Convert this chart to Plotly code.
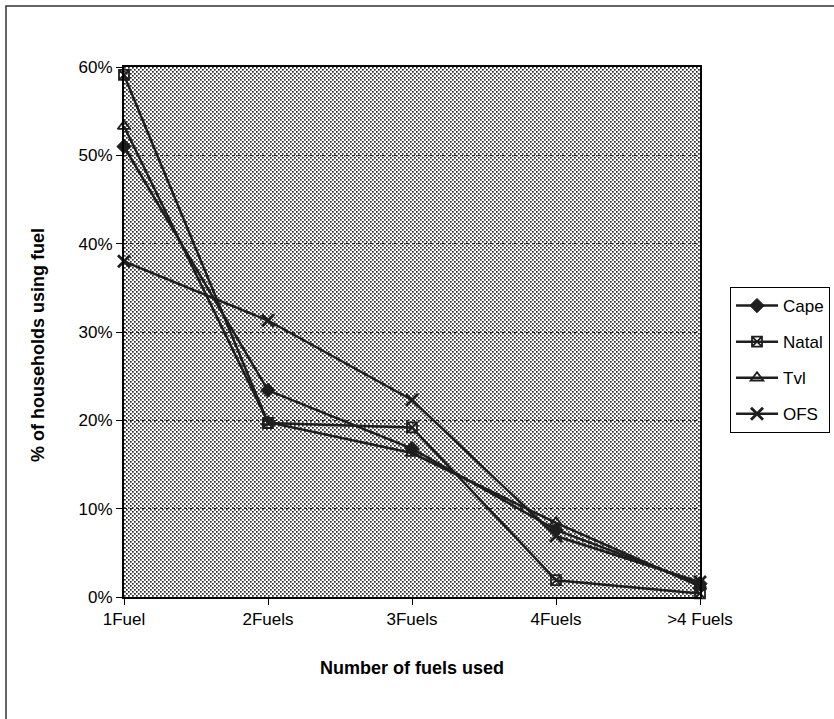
import base64
import plotly.graph_objects as go

# Categories and household shares (fraction of households) by province
categories = ["1Fuel", "2Fuels", "3Fuels", "4Fuels", ">4 Fuels"]
cape = [0.510, 0.234, 0.168, 0.076, 0.015]
natal = [0.591, 0.197, 0.192, 0.019, 0.004]
tvl = [0.533, 0.198, 0.163, 0.084, 0.012]
ofs = [0.380, 0.313, 0.223, 0.069, 0.017]
y_ticks = [0, 0.1, 0.2, 0.3, 0.4, 0.5, 0.6]

W, H = 834, 719
L, R, T, B = 124, 134, 67, 122
PW, PH = W - L - R, H - T - B

FONT = "Liberation Sans, Arial, sans-serif"
INK = "#1e1e1e"


def px_x(px):
    return (px - L) / PW


def px_y(py):
    return (H - B - py) / PH


# stippled plot-area fill as an SVG dot pattern
svg = (
    f"<svg xmlns='http://www.w3.org/2000/svg' width='{PW}' height='{PH}'>"
    "<defs><pattern id='p' width='4' height='4' patternUnits='userSpaceOnUse'>"
    "<rect width='4' height='4' fill='#ffffff'/>"
    "<rect x='0' y='0' width='1.7' height='1.7' fill='#2a2a2a'/>"
    "<rect x='2' y='2' width='1.7' height='1.7' fill='#2a2a2a'/>"
    "</pattern></defs>"
    f"<rect width='{PW}' height='{PH}' fill='url(#p)'/></svg>"
)
svg_uri = "data:image/svg+xml;base64," + base64.b64encode(svg.encode()).decode()

series = [
    ("Cape", cape, dict(symbol="diamond", size=11, color=INK, line=dict(color=INK, width=1))),
    ("Natal", natal, dict(symbol="square-x-open", size=10, color=INK, line=dict(color=INK, width=1.8))),
    ("Tvl", tvl, dict(symbol="triangle-up-open", size=11, color=INK, line=dict(color=INK, width=1.8))),
    ("OFS", ofs, dict(symbol="x-thin-open", size=12, color=INK, line=dict(color=INK, width=2.8))),
]

fig = go.Figure()
for i, (name, vals, marker) in enumerate(series):
    fig.add_trace(go.Scatter(
        x=categories, y=vals, name=name, mode="lines+markers",
        line=dict(color=INK, width=2.5), marker=marker,
        legendgroup=f"g{i}", cliponaxis=False,
    ))

fig.update_layout(
    width=W, height=H,
    margin=dict(l=L, r=R, t=T, b=B, pad=0, autoexpand=False),
    paper_bgcolor="white", plot_bgcolor="white",
    font=dict(family=FONT, size=17, color="black"),
    showlegend=True,
    legend=dict(
        xref="container", yref="container",
        x=730 / W, y=1 - 287 / H, xanchor="left", yanchor="top",
        bordercolor="black", borderwidth=1, bgcolor="white",
        font=dict(family=FONT, size=17, color="black"),
        traceorder="grouped", tracegroupgap=11, itemwidth=42,
    ),
    images=[dict(
        source=svg_uri, xref="paper", yref="paper", x=0, y=1,
        sizex=1, sizey=1, xanchor="left", yanchor="top",
        sizing="stretch", layer="below",
    )],
    xaxis=dict(
        type="category", range=[0, len(categories) - 1],
        showgrid=False, showline=True, linecolor="black", linewidth=2,
        mirror=True, ticks="outside", ticklen=6, tickcolor="black",
        tickfont=dict(size=17), zeroline=False,
    ),
    yaxis=dict(
        range=[0, 0.6], tickvals=y_ticks, tickformat=".0%",
        showgrid=True, gridcolor="#222222", griddash="dot", gridwidth=1,
        showline=True, linecolor="black", linewidth=2, mirror=True,
        ticks="outside", ticklen=6, tickcolor="black",
        tickfont=dict(size=17), zeroline=False,
    ),
    shapes=[dict(
        type="rect", xref="paper", yref="paper",
        x0=px_x(6), x1=px_x(W + 10), y0=px_y(H + 10), y1=px_y(6),
        line=dict(color="#333333", width=1.5), fillcolor="rgba(0,0,0,0)",
        layer="below",
    )],
    annotations=[
        dict(text="<b>Number of fuels used</b>", xref="paper", yref="paper",
             x=0.5, y=px_y(668), xanchor="center", yanchor="middle",
             showarrow=False, font=dict(family=FONT, size=18, color="black")),
        dict(text="<b>% of households using fuel</b>", xref="paper", yref="paper",
             x=px_x(38), y=px_y(345), xanchor="center", yanchor="middle",
             textangle=-90, showarrow=False,
             font=dict(family=FONT, size=18, color="black")),
    ],
)

fig.write_html("out.html")
